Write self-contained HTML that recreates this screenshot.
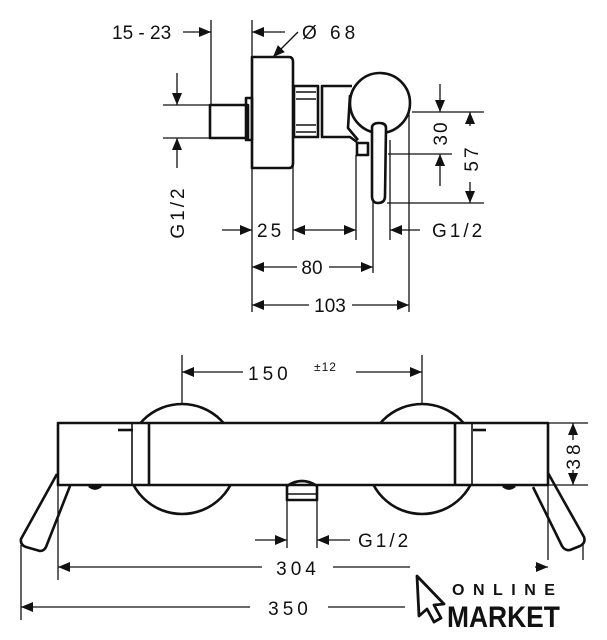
<!DOCTYPE html>
<html><head><meta charset="utf-8"><style>
html,body{margin:0;padding:0;background:#fff;}
svg{display:block;}
text{font-family:"Liberation Sans",sans-serif;fill:#111;}
</style></head><body>
<svg width="607" height="640" viewBox="0 0 607 640" xmlns="http://www.w3.org/2000/svg">
<defs>
<marker id="a" viewBox="0 0 12 10" refX="12" refY="5" markerWidth="12" markerHeight="10" markerUnits="userSpaceOnUse" orient="auto-start-reverse"><path d="M0,0 L12,5 L0,10 Z" fill="#111"/></marker>
</defs>
<g stroke="#111" fill="none">
<g stroke-width="1.3">
<line x1="211" y1="20" x2="211" y2="105"/>
<line x1="252" y1="20" x2="252" y2="312"/>
<line x1="183" y1="32" x2="211" y2="32" marker-end="url(#a)"/>
<line x1="285" y1="32" x2="252" y2="32" marker-end="url(#a)"/>
<line x1="298" y1="32" x2="273" y2="57" marker-end="url(#a)"/>
<line x1="163" y1="105" x2="210" y2="105"/>
<line x1="163" y1="138" x2="210" y2="138"/>
<line x1="177" y1="73" x2="177" y2="105" marker-end="url(#a)"/>
<line x1="177" y1="168" x2="177" y2="138" marker-end="url(#a)"/>
<line x1="293" y1="93" x2="293" y2="240"/>
<line x1="356" y1="155" x2="356" y2="240"/>
<line x1="373" y1="200" x2="373" y2="273"/>
<line x1="390" y1="140" x2="390" y2="240"/>
<line x1="409" y1="112" x2="409" y2="312"/>
<line x1="412" y1="112" x2="484" y2="112"/>
<line x1="388" y1="154" x2="452" y2="154"/>
<line x1="387" y1="203" x2="484" y2="203"/>
<line x1="440" y1="84" x2="440" y2="112" marker-end="url(#a)"/>
<line x1="440" y1="186" x2="440" y2="154" marker-end="url(#a)"/>
<line x1="470" y1="126" x2="470" y2="112" marker-end="url(#a)"/>
<line x1="470" y1="182" x2="470" y2="203" marker-end="url(#a)"/>
<line x1="222" y1="230" x2="252" y2="230" marker-end="url(#a)"/>
<line x1="293" y1="230" x2="356" y2="230" marker-start="url(#a)" marker-end="url(#a)"/>
<line x1="420" y1="230" x2="390" y2="230" marker-end="url(#a)"/>
<line x1="297" y1="267" x2="252" y2="267" marker-end="url(#a)"/>
<line x1="329" y1="267" x2="373" y2="267" marker-end="url(#a)"/>
<line x1="309" y1="305" x2="252" y2="305" marker-end="url(#a)"/>
<line x1="352" y1="305" x2="409" y2="305" marker-end="url(#a)"/>
</g>
<g stroke-width="2.6" stroke-linejoin="round">
<rect x="210" y="105" width="38" height="33"/>
<rect x="246" y="98" width="6" height="42"/>
<path d="M252,57 L289,57 Q293,57 293,62 L293,163 Q293,168 289,168 L252,168 Z"/>
<rect x="294" y="86" width="24" height="51"/>
<line x1="296" y1="92" x2="316" y2="92" stroke-width="1.6"/>
<line x1="296" y1="99" x2="316" y2="99" stroke-width="1.6"/>
<line x1="296" y1="125" x2="316" y2="125" stroke-width="1.6"/>
<line x1="296" y1="132" x2="316" y2="132" stroke-width="1.6"/>
<path d="M352,86 L322,86 L322,137 L350,137 L357,142"/>
<circle cx="380" cy="103" r="30" fill="#fff"/>
<path d="M350,95 L348,128 L358,140"/>
<rect x="357" y="143" width="11" height="12"/>
<path d="M372,128 Q372,123 379,123 Q386,123 386,128 L385,196 Q385,203 378,203 Q372,203 372,196 Z" fill="#fff"/>
</g>
<g stroke-width="1.3">
<line x1="182" y1="355" x2="182" y2="404"/>
<line x1="422" y1="355" x2="422" y2="404"/>
<line x1="243" y1="372" x2="182" y2="372" marker-end="url(#a)"/>
<line x1="356" y1="372" x2="422" y2="372" marker-end="url(#a)"/>
<line x1="548" y1="423" x2="588" y2="423"/>
<line x1="548" y1="485" x2="588" y2="485"/>
<line x1="573" y1="440" x2="573" y2="423" marker-end="url(#a)"/>
<line x1="573" y1="470" x2="573" y2="485" marker-end="url(#a)"/>
<line x1="287" y1="500" x2="287" y2="548"/>
<line x1="317" y1="500" x2="317" y2="548"/>
<line x1="255" y1="540" x2="287" y2="540" marker-end="url(#a)"/>
<line x1="350" y1="540" x2="317" y2="540" marker-end="url(#a)"/>
<line x1="58" y1="486" x2="58" y2="580"/>
<line x1="548" y1="486" x2="548" y2="560"/>
<line x1="21" y1="545" x2="21" y2="620"/>
<line x1="583" y1="545" x2="583" y2="560"/>
<line x1="262" y1="567" x2="58" y2="567" marker-end="url(#a)"/>
<line x1="333" y1="567" x2="410" y2="567"/>
<line x1="535" y1="567" x2="548" y2="567" marker-end="url(#a)"/>
<line x1="250" y1="607" x2="21" y2="607" marker-end="url(#a)"/>
<line x1="328" y1="607" x2="405" y2="607"/>
</g>
<g stroke-width="2.6" stroke-linejoin="round">
<circle cx="182" cy="459" r="55"/>
<circle cx="422" cy="459" r="55"/>
<rect x="58" y="423" width="490" height="62" fill="#fff"/>
<line x1="132" y1="424" x2="132" y2="484" stroke-width="1.6"/>
<line x1="149" y1="424" x2="149" y2="484"/>
<line x1="455" y1="424" x2="455" y2="484"/>
<line x1="472" y1="424" x2="472" y2="484" stroke-width="1.6"/>
<line x1="118" y1="430" x2="133" y2="430"/>
<line x1="473" y1="430" x2="486" y2="430"/>
<path d="M89,486 Q95,491 101,486" fill="#111"/>
<path d="M503,486 Q509,491 515,486" fill="#111"/>
<path d="M57,474 L21,539 Q20,545 26,547 L40,551 Q44,551 46,547 L70,486"/>
<path d="M548,473 L584,537 Q586,543 580,546 L570,550 Q565,551 562,546 L533,487"/>
<path d="M287,485 L287,500 L317,500 L317,485"/>
<path d="M287,486 Q302,476 317,486"/>
<line x1="288" y1="494" x2="316" y2="494" stroke-width="1.4"/>
</g>
<path d="M417,576 L444,604 L434,605 L441,618 L434,622 L427,609 L419,616 Z" stroke-width="2.8" stroke-linejoin="round"/>
</g>
<g font-size="19">
<text x="112" y="39">15 - 23</text>
<text x="302" y="39" letter-spacing="4">Ø 68</text>
<text x="257" y="237" letter-spacing="3">25</text>
<text x="432" y="237" letter-spacing="3">G1/2</text>
<text x="312" y="274" text-anchor="middle">80</text>
<text x="330" y="312" text-anchor="middle">103</text>
<text transform="translate(184,212) rotate(-90)" text-anchor="middle" letter-spacing="3">G1/2</text>
<text transform="translate(447,133) rotate(-90)" text-anchor="middle" letter-spacing="2">30</text>
<text transform="translate(478,158) rotate(-90)" text-anchor="middle" letter-spacing="3">57</text>
<text x="248" y="380" letter-spacing="4">150</text>
<text x="314" y="371" font-size="12" letter-spacing="1">±12</text>
<text transform="translate(580,455) rotate(-90)" text-anchor="middle" letter-spacing="4">38</text>
<text x="358" y="547" letter-spacing="3">G1/2</text>
<text x="298" y="575" text-anchor="middle" letter-spacing="4">304</text>
<text x="290" y="615" text-anchor="middle" letter-spacing="4">350</text>
</g>
<text x="452" y="595" font-size="16" font-weight="bold" letter-spacing="8.5">ONLINE</text>
<text font-size="30" font-weight="bold" transform="translate(447,627) scale(0.88,1)">MARKET</text>
</svg>
</body></html>
